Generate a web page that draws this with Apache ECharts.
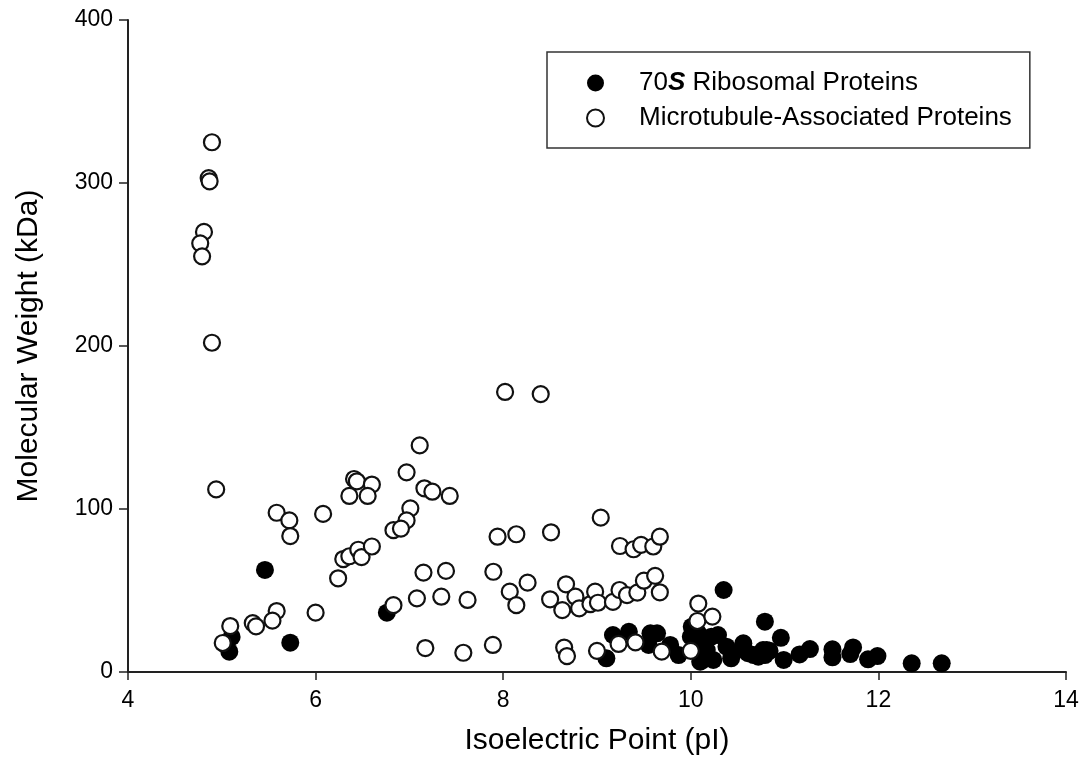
<!DOCTYPE html>
<html>
<head>
<meta charset="utf-8">
<script src="https://cdn.jsdelivr.net/npm/echarts@6/dist/echarts.min.js"></script>
<style>
html,body{margin:0;padding:0;background:#fff;}
#chart{width:1083px;height:783px;}
</style>
</head>
<body>
<div id="chart"></div>
<script>
const xTicks = [4, 6, 8, 10, 12, 14];
const yTicks = [0, 100, 200, 300, 400];
const seriesNames = ['70S Ribosomal Proteins', 'Microtubule-Associated Proteins'];

const ribosomal = [
  [5.08,12.5],[5.105,21.5],[5.46,62.6],[5.73,18],[6.76,36.4],
  [9.1,8.4],[9.17,22.7],[9.34,24.7],[9.57,23.7],[9.64,23.7],[9.55,16.6],[9.78,16.6],[9.87,10.4],
  [10.01,27.8],[10.08,23.7],[10.1,6.3],[10.17,13.5],[10.29,22.7],[10.24,7.4],[10.38,15.5],
  [10.45,11.5],[10.56,17.6],[10.61,11.5],[10.72,9.4],[10.81,13.5],[10.35,50.3],[10.79,30.9],
  [10.96,21],[10.77,13.5],[10.79,10.4],[10.99,7.4],[11.16,10.8],[11.27,14.1],[11.51,13.9],
  [11.51,9],[11.73,15.1],[11.7,11],[11.89,7.8],[11.99,9.8],[12.355,5.3],[12.675,5.3],
  [10.0,21.7],[10.13,7.4],[10.43,8.4],[10.67,10.4],[10.84,13],[10.22,21.7],[10.08,19.6]
];

const microtubule = [
  [4.895,325],[4.86,303],[4.87,301],[4.81,270],[4.77,263],[4.79,255],[4.895,202],[4.94,112],
  [5.585,97.7],[5.72,93],[5.73,83.4],[6.08,97],[6.41,118.4],[6.44,117],[6.6,115],[6.36,108],
  [6.555,108],[6.83,87],[6.295,69.3],[6.36,71],[6.455,75],[6.49,70.5],[6.6,77],[6.24,57.5],
  [6.0,36.4],[5.585,37.4],[5.54,31.5],[5.33,30],[5.365,28],[5.09,28.2],[5.01,17.8],[6.83,41],
  [7.11,139],[6.97,122.5],[7.16,112.7],[7.245,110.6],[7.43,108],[7.01,100.4],[6.97,93],[6.91,88],
  [7.94,83],[8.14,84.5],[8.51,85.7],[7.15,61],[7.39,62],[7.895,61.5],[8.07,49.3],[8.26,54.8],
  [8.14,41],[7.08,45.2],[7.34,46.2],[7.62,44.2],[8.5,44.6],[8.63,38],[8.67,53.8],[8.77,46.2],
  [7.17,14.7],[7.575,11.8],[7.89,16.6],[8.65,15],[8.68,9.8],[8.02,171.8],[8.4,170.5],
  [9.04,94.7],[9.245,77.3],[9.39,75.3],[9.47,78],[9.6,77],[9.67,83],[8.81,39],[8.93,41.7],
  [8.98,49.3],[9.01,42.5],[9.17,43],[9.24,50.3],[9.32,47.2],[9.43,48.7],[9.5,56],[9.62,59],
  [9.67,48.9],[10.08,42],[10.07,31.3],[10.23,34],[9.23,17.2],[9.41,18.2],[9.0,13],[9.69,12.5],[10.0,13]
];

const FONT = '"Liberation Sans", Arial, sans-serif';
const chart = echarts.init(document.getElementById('chart'), null, {renderer: 'canvas'});
chart.setOption({
  backgroundColor: '#fff',
  animation: false,
  grid: {left: 128, right: 17, top: 20, bottom: 111, containLabel: false},
  xAxis: {
    type: 'value',
    min: xTicks[0], max: xTicks[xTicks.length - 1], interval: 2,
    name: 'Isoelectric Point (pI)',
    nameLocation: 'middle', nameGap: 54,
    nameTextStyle: {fontFamily: FONT, fontSize: 30, color: '#000'},
    axisLine: {show: true, lineStyle: {color: '#222', width: 2}},
    axisTick: {show: true, inside: false, length: 8, lineStyle: {color: '#222', width: 1.5}},
    axisLabel: {fontFamily: FONT, fontSize: 23, color: '#000', margin: 17},
    splitLine: {show: false}
  },
  yAxis: {
    type: 'value',
    min: yTicks[0], max: yTicks[yTicks.length - 1], interval: 100,
    name: 'Molecular Weight (kDa)',
    nameLocation: 'middle', nameGap: 84,
    nameTextStyle: {fontFamily: FONT, fontSize: 30, color: '#000'},
    axisLine: {show: true, lineStyle: {color: '#222', width: 2}},
    axisTick: {show: true, inside: false, length: 9, lineStyle: {color: '#222', width: 1.5}},
    axisLabel: {fontFamily: FONT, fontSize: 23, color: '#000', margin: 15},
    splitLine: {show: false}
  },
  legend: {
    orient: 'vertical',
    left: 547, top: 52,
    data: [
      {name: seriesNames[0], itemStyle: {color: '#000', borderColor: '#000', borderWidth: 0}},
      {name: seriesNames[1]}
    ],
    itemWidth: 17, itemHeight: 17, itemGap: 9,
    padding: [18, 18, 17, 39],
    borderColor: '#333', borderWidth: 1.5,
    formatter: function (name) {
      return name === seriesNames[0] ? '70{s|S} Ribosomal Proteins' : name;
    },
    textStyle: {
      fontFamily: FONT, fontSize: 26, color: '#000', lineHeight: 26,
      padding: [0, 0, 0, 30],
      rich: {s: {fontFamily: FONT, fontSize: 26, fontStyle: 'italic', fontWeight: 'bold', color: '#000', lineHeight: 26}}
    }
  },
  series: [
    {
      name: seriesNames[0], type: 'scatter', data: ribosomal,
      symbol: 'circle', symbolSize: 18,
      itemStyle: {color: '#000', borderColor: '#000', borderWidth: 0, opacity: 1}
    },
    {
      name: seriesNames[1], type: 'scatter', data: microtubule,
      symbol: 'circle', symbolSize: 16,
      itemStyle: {color: '#fff', borderColor: '#111', borderWidth: 2.2, opacity: 1}
    }
  ]
});
</script>
</body>
</html>
